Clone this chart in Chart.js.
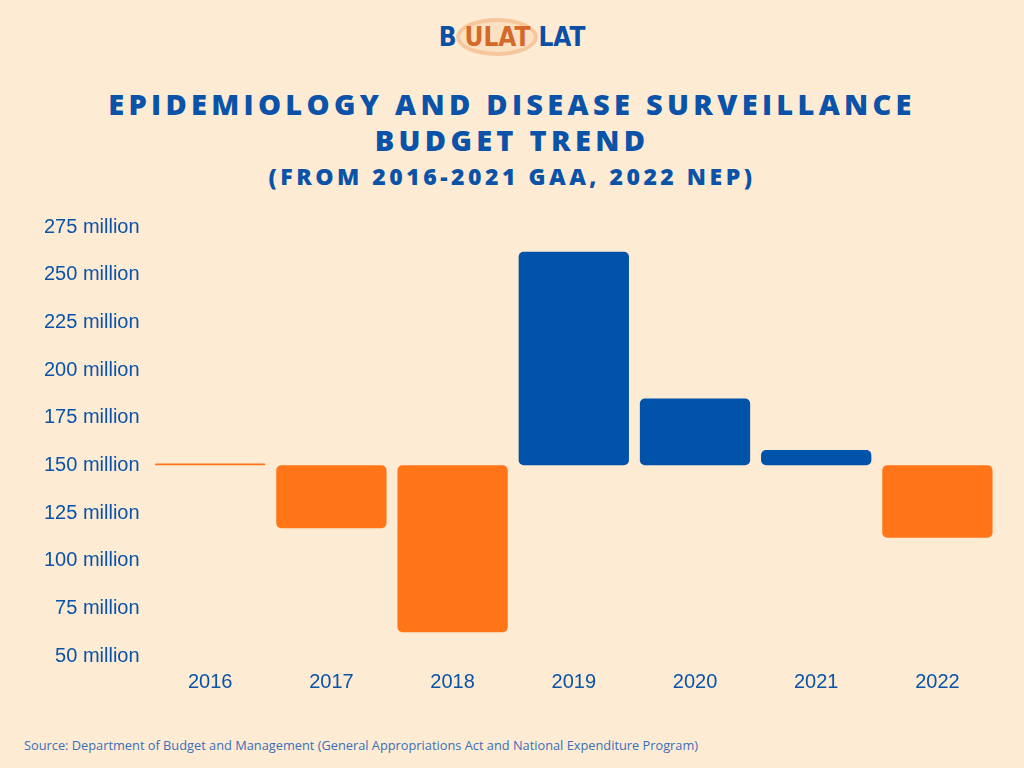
<!DOCTYPE html>
<html>
<head>
<meta charset="utf-8">
<script src="https://cdn.jsdelivr.net/npm/chart.js@4"></script>
<style>
body { margin:0; width:1024px; height:768px; background:#fdebd3; position:relative; overflow:hidden; font-family:"Open Sans", sans-serif; }
.logo { position:absolute; top:18px; left:0; width:1024px; text-align:center; font-family:"Liberation Sans Narrow","DejaVu Sans Condensed",sans-serif; font-weight:bold; font-size:26px; color:#0a4fa3; }
.logo span { color:#d4692a; display:inline-block; border:4px solid #f6c79c; border-radius:50%; padding:0 4px; background:#fbe0c2; }
h1 { position:absolute; top:86px; left:0; width:1024px; margin:0; text-align:center; color:#0a53a8; font-weight:800; font-size:29px; letter-spacing:4.3px; line-height:36px; }
h2 { position:absolute; top:160px; left:0; width:1024px; margin:0; text-align:center; color:#0a53a8; font-weight:800; font-size:23px; letter-spacing:3.5px; }
.src { position:absolute; top:736px; left:24px; font-size:12.8px; color:#3b6fb8; }
#wrap { position:absolute; left:42px; top:213px; width:956px; height:487px; }
</style>
</head>
<body>
<div class="logo">B<span>ULAT</span>LAT</div>
<h1>EPIDEMIOLOGY AND DISEASE SURVEILLANCE<br>BUDGET TREND</h1>
<h2>(FROM 2016-2021 GAA, 2022 NEP)</h2>
<div id="wrap"><canvas id="chart"></canvas></div>
<div class="src">Source: Department of Budget and Management (General Appropriations Act and National Expenditure Program)</div>
<script>
const years = ["2016", "2017", "2018", "2019", "2020", "2021", "2022"];
const budgets = [151, 117, 62.5, 262, 185, 158, 112];
const baseline = 150;
const yTicks = [50, 75, 100, 125, 150, 175, 200, 225, 250, 275];

const ctx = document.getElementById("chart").getContext("2d");
new Chart(ctx, {
    type: "bar",
    data: {
        labels: years,
        datasets: [{
            data: budgets.map(v => [baseline, v]),
            backgroundColor: budgets.map(v => v > 152 ? "#0053a8" : "#ff7518"),
            borderRadius: 5,
            borderSkipped: false,
            categoryPercentage: 1,
            barPercentage: 0.91
        }]
    },
    options: {
        responsive: true,
        maintainAspectRatio: false,
        animation: false,
        plugins: { legend: { display: false }, tooltip: { enabled: false } },
        scales: {
            x: {
                grid: { display: false },
                border: { display: false },
                ticks: { color: "#0a53a8", font: { family: "Liberation Sans", size: 20 }, padding: 6 }
            },
            y: {
                min: 50,
                max: 275,
                afterBuildTicks: axis => { axis.ticks = yTicks.map(v => ({ value: v })); },
                grid: { display: false },
                border: { display: false },
                ticks: {
                    color: "#0a53a8",
                    font: { family: "Liberation Sans", size: 20 },
                    padding: 2,
                    callback: v => v + " million"
                }
            }
        }
    }
});
</script>
</body>
</html>
